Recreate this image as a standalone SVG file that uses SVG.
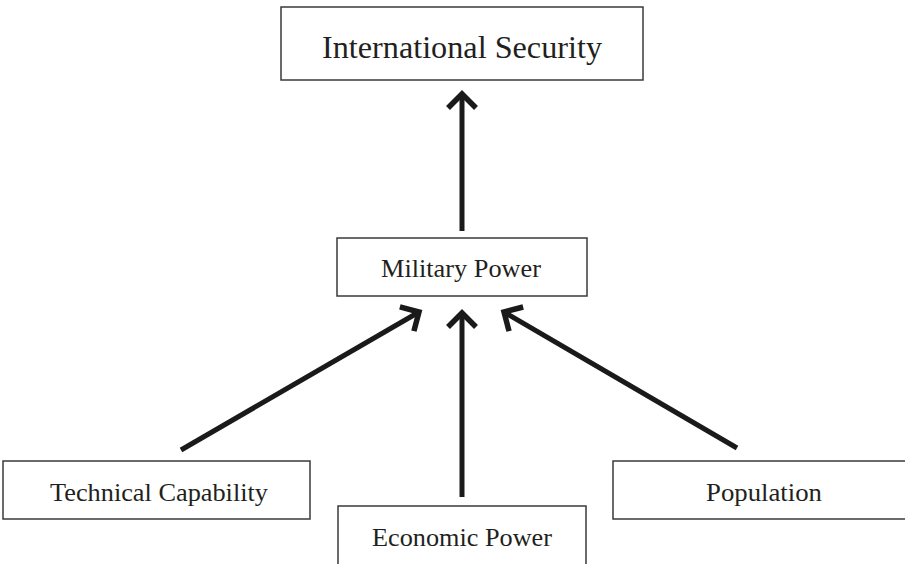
<svg xmlns="http://www.w3.org/2000/svg" width="905" height="564" viewBox="0 0 905 564">
<defs>
<style>
.box{fill:#fff;stroke:#3a3a3a;stroke-width:1.5}
.t{font-family:"Liberation Serif","Times New Roman",serif;fill:#231f20;text-anchor:middle}
.c{stroke:#1a1a1a;stroke-width:5;fill:none}
</style>
<marker id="ah" viewBox="-18 -18 24 36" markerWidth="24" markerHeight="36" refX="0" refY="0" orient="auto" markerUnits="userSpaceOnUse">
<path d="M-14,-14 L0,0 L-14,14" fill="none" stroke="#1a1a1a" stroke-width="5.5" stroke-linejoin="miter"/>
</marker>
</defs>
<rect width="905" height="564" fill="#fff"/>
<g id="connectors">
<line class="c" x1="462" y1="231" x2="462" y2="94" marker-end="url(#ah)"/>
<line class="c" x1="181" y1="450" x2="419" y2="312" marker-end="url(#ah)"/>
<line class="c" x1="462" y1="497" x2="462" y2="313" marker-end="url(#ah)"/>
<line class="c" x1="737" y1="448" x2="504" y2="312" marker-end="url(#ah)"/>
</g>
<g id="international-security">
<rect class="box" x="281" y="7" width="362" height="73"/>
<text class="t" x="462" y="58" font-size="32" textLength="280" lengthAdjust="spacingAndGlyphs">International Security</text>
</g>
<g id="military-power">
<rect class="box" x="337" y="238" width="250" height="58"/>
<text class="t" x="461" y="277" font-size="26" textLength="160" lengthAdjust="spacingAndGlyphs">Military Power</text>
</g>
<g id="technical-capability">
<rect class="box" x="3" y="461" width="307" height="58"/>
<text class="t" x="159" y="501" font-size="26" textLength="218" lengthAdjust="spacingAndGlyphs">Technical Capability</text>
</g>
<g id="economic-power">
<rect class="box" x="338" y="506" width="248" height="70"/>
<text class="t" x="462" y="546" font-size="26" textLength="180" lengthAdjust="spacingAndGlyphs">Economic Power</text>
</g>
<g id="population">
<rect class="box" x="613" y="461" width="300" height="58"/>
<text class="t" x="764" y="501" font-size="26" textLength="116" lengthAdjust="spacingAndGlyphs">Population</text>
</g>
</svg>
